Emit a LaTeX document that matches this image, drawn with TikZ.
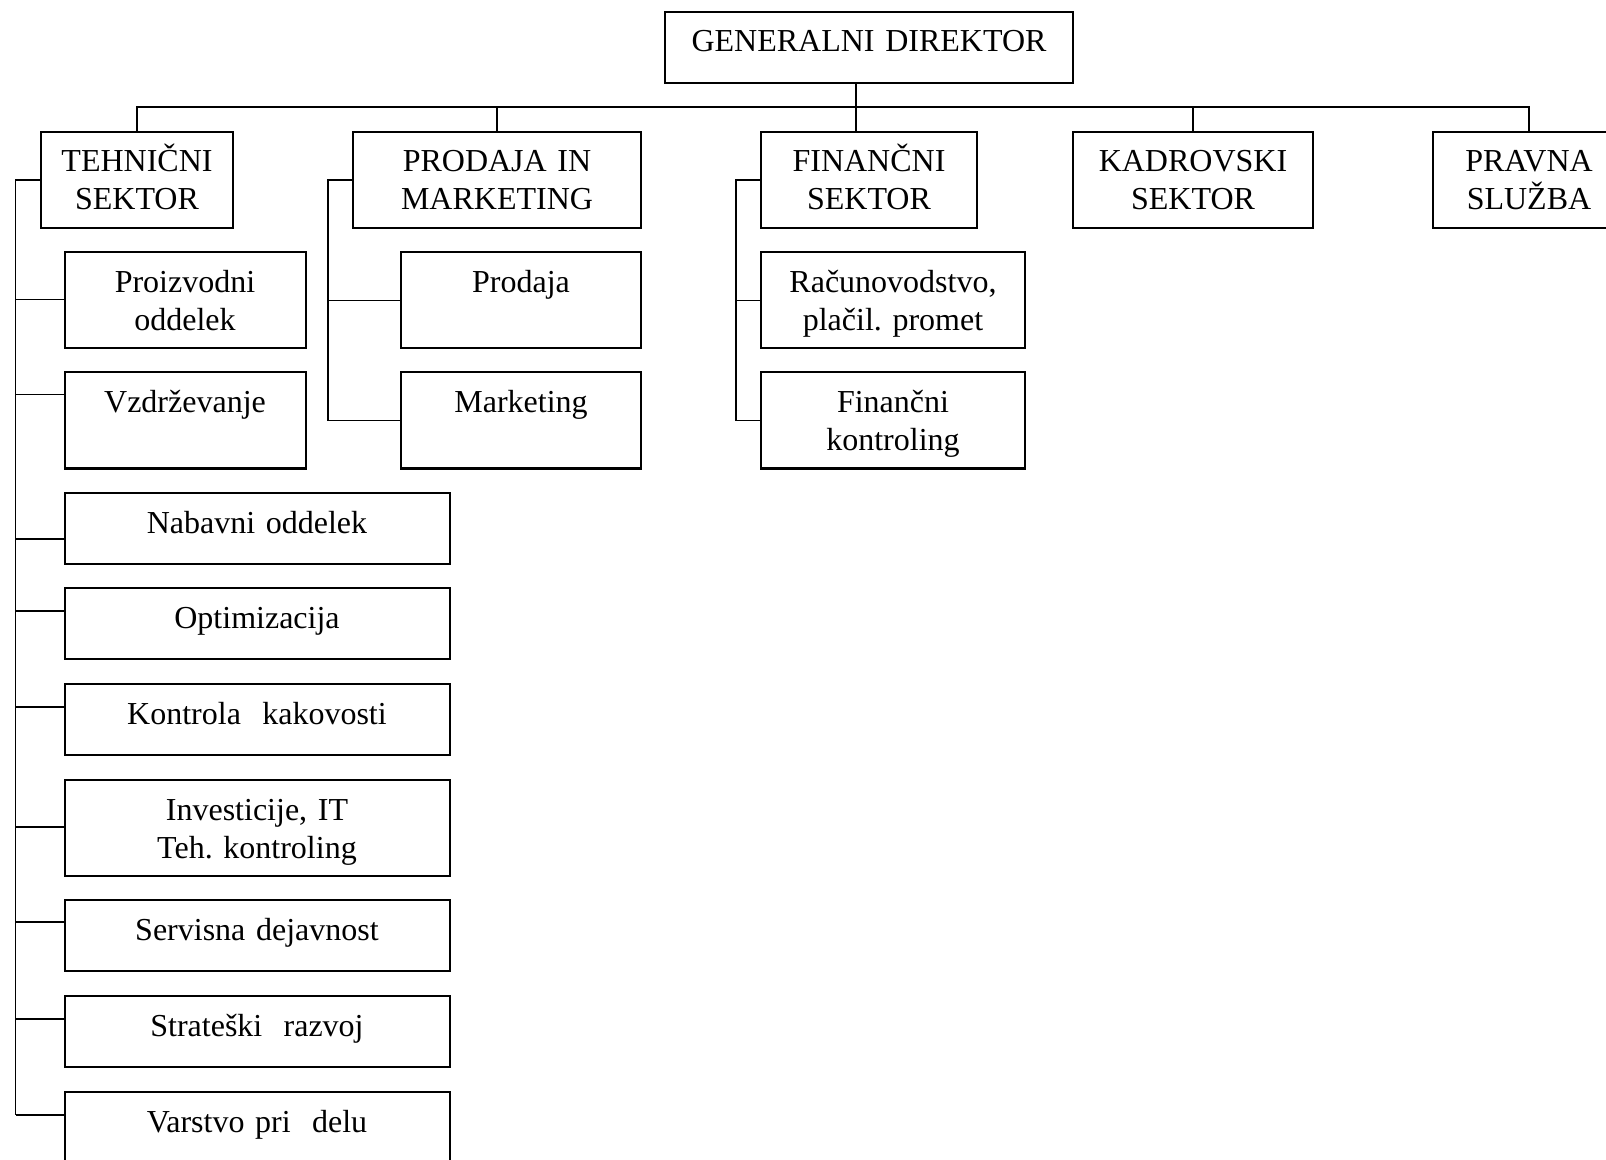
\documentclass[tikz,border=0pt]{standalone}
\usepackage{fontspec}
\setmainfont{Liberation Serif}
\usepackage{tikz}
\frenchspacing

\tikzset{
  box/.style={draw, line width=1pt, inner sep=0pt, anchor=north west, align=center,
    font=\fontsize{16pt}{19pt}\selectfont, text height=20pt, text depth=28pt},
  flat/.style={box, text depth=15.5pt},
  link/.style={line width=0.8pt},
}

\begin{document}
\begin{tikzpicture}[x=0.5pt,y=-0.5pt]
  \path[use as bounding box, clip] (0,0) rectangle (1606,1160);

  \node[flat, text width=204pt] (gd)     at (664,11)  {GENERALNI DIREKTOR};
  \node[box, text width=96pt]   (tech)   at (40,131)  {TEHNIČNI\\SEKTOR};
  \node[box, text width=144pt]  (prod)   at (352,131) {PRODAJA IN\\MARKETING};
  \node[box, text width=108pt]  (fin)    at (760,131) {FINANČNI\\SEKTOR};
  \node[box, text width=120pt]  (kadr)   at (1072,131) {KADROVSKI\\SEKTOR};
  \node[box, text width=96pt]   (pravna) at (1432,131) {PRAVNA\\SLUŽBA};

  \node[box, text width=120.5pt]  (proi)  at (63.5,251.5) {Proizvodni\\oddelek};
  \node[box, text width=120.5pt]  (vzdr)  at (63.5,371.5) {Vzdrževanje};
  \node[flat, text width=192.5pt] (nab)   at (63.5,492)   {Nabavni oddelek};
  \node[flat, text width=192.5pt] (opt)   at (63.5,587)   {Optimizacija};
  \node[flat, text width=192.5pt] (kont)  at (63.5,683)   {Kontrola~ kakovosti};
  \node[box, text width=192.5pt]  (inv)   at (63.5,779)   {Investicije, IT\\Teh. kontroling};
  \node[flat, text width=192.5pt] (serv)  at (63.5,899)   {Servisna dejavnost};
  \node[flat, text width=192.5pt] (strat) at (63.5,995)   {Strateški~ razvoj};
  \node[box, text width=192.5pt]  (varst) at (63.5,1091)  {Varstvo pri~ delu};

  \node[box, text width=120pt] (prodaja) at (400,251.5) {Prodaja};
  \node[box, text width=120pt] (mark)    at (400,371.5) {Marketing};
  \node[box, text width=132pt] (rac)     at (760,251.5) {Računovodstvo,\\plačil. promet};
  \node[box, text width=132pt] (fink)    at (760,371.5) {Finančni\\kontroling};

  \coordinate (bus) at (856,107);
  \coordinate (tt)  at (15.5,179);
  \coordinate (pt)  at (328,179);
  \coordinate (ft)  at (736,179);

  \draw[link] (gd.south -| bus) -- (fin.north -| bus);
  \draw[link] (tech.north) |- (pravna.north |- bus) -- (pravna.north);
  \foreach \n in {prod,kadr}
    \draw[link] (\n.north) -- (\n.north |- bus);

  \foreach \n/\d in {proi/24pt,vzdr/11.5pt,nab/23.5pt,opt/12pt,kont/12pt,inv/24pt,serv/11.5pt,strat/12pt,varst/12pt}
    \draw[link] ([yshift=-\d]\n.north west) coordinate (\n-in) -- (\n-in -| tt);
  \draw[link] (tech.west) -| (tt |- varst-in);

  \draw[link] (prod.west) -| (pt |- mark.west) -- (mark.west);
  \draw[link] (prodaja.west) -- (prodaja.west -| pt);
  \draw[link] (fin.west) -| (ft |- fink.west) -- (fink.west);
  \draw[link] (rac.west) -- (rac.west -| ft);
\end{tikzpicture}
\end{document}
